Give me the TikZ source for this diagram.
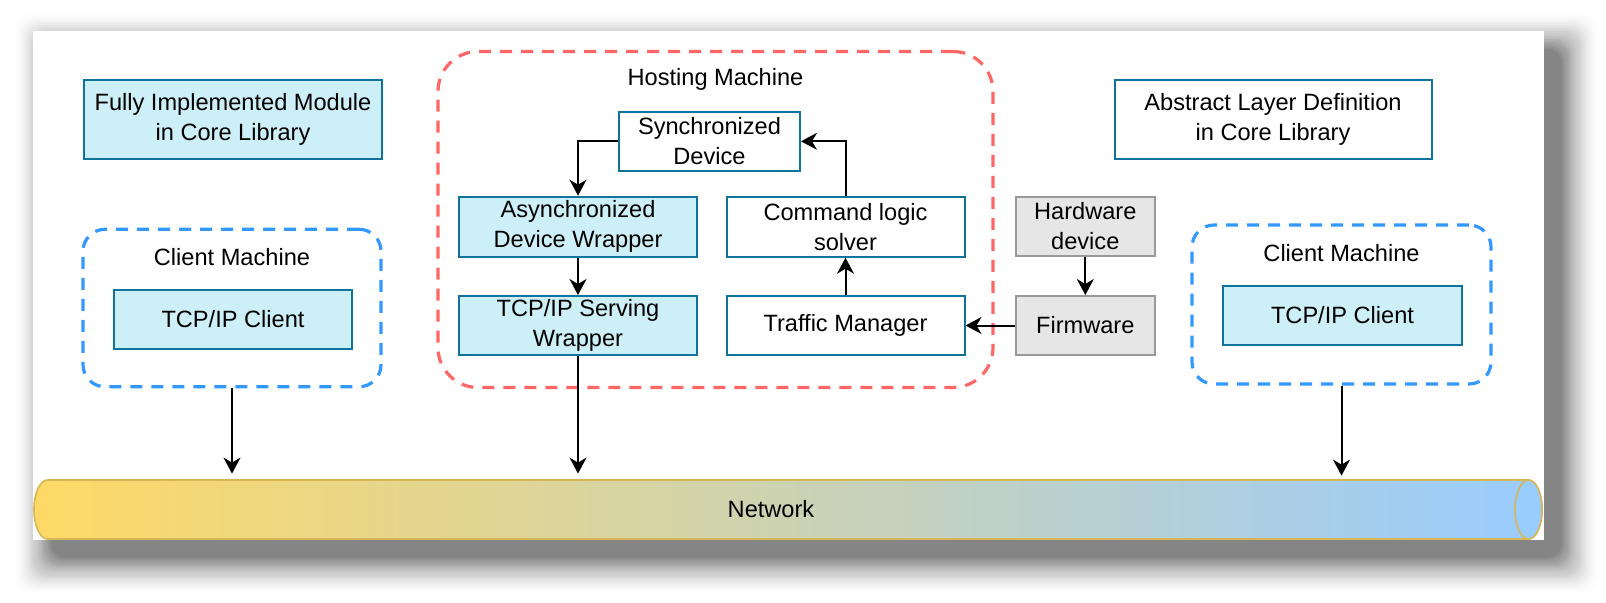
\documentclass[tikz,border=0pt]{standalone}
\usepackage{fontspec}
\setmainfont{Liberation Sans}
\usetikzlibrary{arrows.meta}
\definecolor{boxfill}{HTML}{CDEFF7}
\definecolor{boxline}{HTML}{10739E}
\definecolor{hwfill}{HTML}{E6E6E6}
\definecolor{hwline}{HTML}{999999}
\definecolor{hostred}{HTML}{FF6666}
\definecolor{clientblue}{HTML}{3399FF}
\definecolor{netyellow}{HTML}{FFD966}
\definecolor{netblue}{HTML}{99CCFF}
\definecolor{netline}{HTML}{D6B656}
\begin{document}
\begin{tikzpicture}[x=0.5pt,y=-0.5pt,font=\fontsize{11.8}{15}\selectfont,
	box/.style={draw=boxline,line width=1pt,align=center,inner sep=0pt,minimum height=29.5pt},
	corebox/.style={box,fill=boxfill},
	absbox/.style={box,fill=white},
	hwbox/.style={box,draw=hwline,fill=hwfill},
	machine/.style={dash pattern=on 6pt off 4.5pt,line width=1.6pt,rounded corners=11pt,inner sep=0pt},
	arr/.style={-{Stealth[length=8pt,width=8.5pt,inset=2.5pt]},line width=1pt}]
	\useasboundingbox (0,0) rectangle (1606,602);
	\foreach \i [evaluate=\i as \op using 0.05*(1-\i/24)] in {0,...,23}
		\fill[black,opacity=\op,rounded corners=8pt] (51-\i*1.6,49-\i*1.6) rectangle (1562+\i*1.6,558+\i*1.6);
	\fill[white] (33,31) rectangle (1544,540);

	\node[corebox,minimum width=149pt,minimum height=39.5pt] (fullmod) at (233,119.5) {Fully Implemented Module\\in Core Library};
	\node[absbox,minimum width=158.5pt,minimum height=39.5pt] (abslayer) at (1273,119.5) {Abstract Layer Definition\\in Core Library};

	\node[machine,draw=clientblue,minimum width=149pt,minimum height=78.75pt] (clientL) at (232,308) {};
	\node (clientLtitle) at (232,257) {Client Machine};
	\node[corebox,minimum width=119pt] (tcpL) at (233,319) {TCP/IP Client};

	\node[machine,draw=hostred,rounded corners=20pt,minimum width=277.5pt,minimum height=168pt] (hosting) at (715.5,219.5) {};
	\node (hostingtitle) at (715.5,79) {Hosting Machine};
	\node[absbox,minimum width=90.5pt] (sync) at (709.5,141.3) {Synchronized\\Device};
	\node[corebox,minimum width=119.25pt,minimum height=30pt] (async) at (578,226.7) {Asynchronized\\Device Wrapper};
	\node[absbox,minimum width=119pt,minimum height=30pt] (cmd) at (845.5,226.7) {Command logic\\solver};
	\node[corebox,minimum width=119.25pt] (tcpS) at (578,325.5) {TCP/IP Serving\\Wrapper};
	\node[absbox,minimum width=119pt] (traffic) at (845.5,325.5) {Traffic Manager};

	\node[hwbox,minimum width=69.75pt] (hw) at (1085.3,226.4) {Hardware\\device};
	\node[hwbox,minimum width=69.75pt] (fw) at (1085.3,325.5) {Firmware};

	\node[machine,draw=clientblue,minimum width=149.5pt,minimum height=79.5pt] (clientR) at (1341.5,304.5) {};
	\node (clientRtitle) at (1341.5,253) {Client Machine};
	\node[corebox,minimum width=119.5pt] (tcpR) at (1342.5,315.3) {TCP/IP Client};

	\shade[left color=netyellow,right color=netblue,draw=netline,line width=0.8pt]
		(47.5,480) -- (1528.5,480) arc[start angle=90,end angle=-90,x radius=6.75pt,y radius=14.75pt]
		-- (47.5,539) arc[start angle=270,end angle=90,x radius=6.75pt,y radius=14.75pt] -- cycle;
	\draw[netline,fill=netblue,line width=0.8pt] (1528.5,509.5) ellipse[x radius=6.75pt,y radius=14.75pt];
	\node[inner sep=0pt,minimum width=737pt,minimum height=29.5pt] (net) at (771,509.5) {Network};

	\draw[arr] (sync.west) -| (async.north);
	\draw[arr] (async) -- (tcpS);
	\draw[arr] (traffic) -- (cmd);
	\draw[arr] (cmd.north) |- (sync.east);
	\draw[arr] (hw) -- (fw);
	\draw[arr] (fw) -- (traffic);
	\draw[arr,shorten >=3pt] (clientL.south) -- (clientL.south |- net.north);
	\draw[arr,shorten >=3pt] (tcpS.south) -- (tcpS.south |- net.north);
	\draw[arr,shorten >=2pt] (clientR.south) -- (clientR.south |- net.north);
\end{tikzpicture}
\end{document}
